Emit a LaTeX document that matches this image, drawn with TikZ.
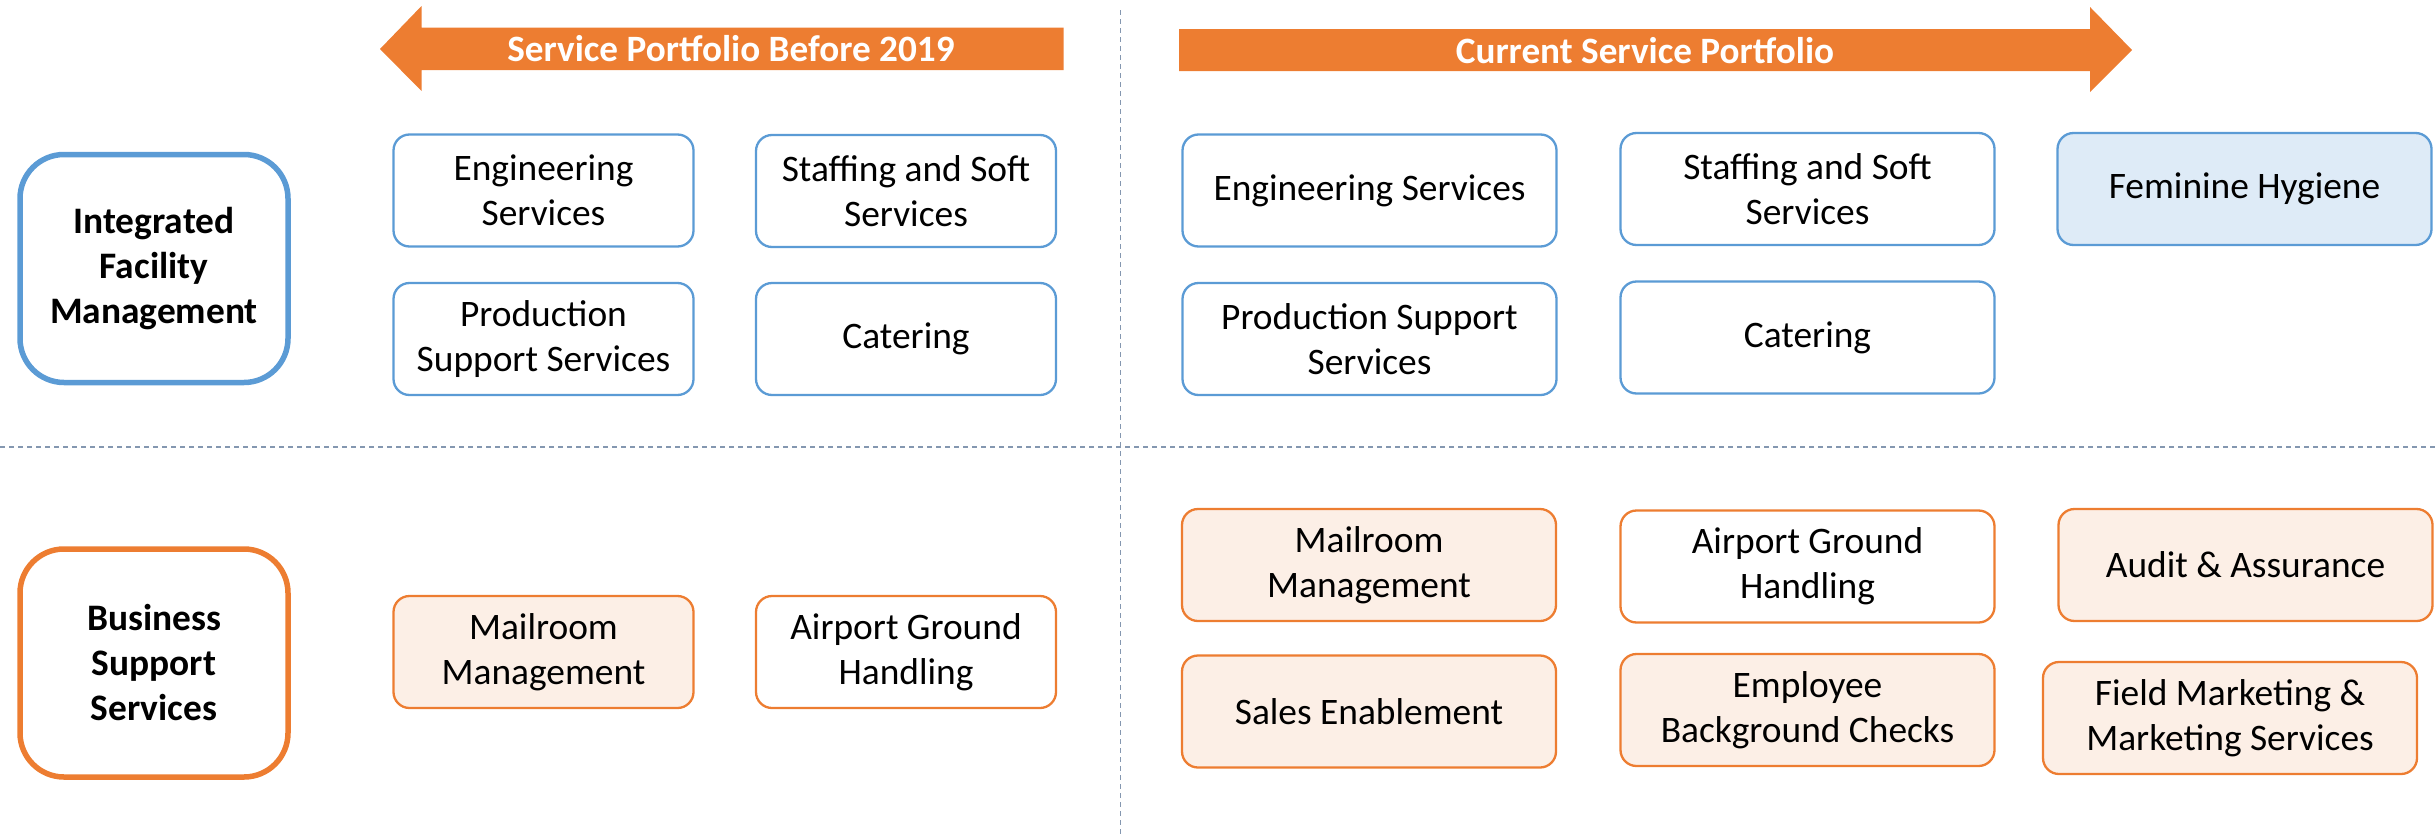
\documentclass[tikz,border=0pt]{standalone}
\usepackage{fontspec}
\setmainfont{Carlito}
\usepackage{xcolor}
\usetikzlibrary{calc}

\definecolor{ifmblue}{HTML}{5B9BD5}
\definecolor{ifmlight}{HTML}{DEEBF7}
\definecolor{bssorange}{HTML}{ED7D31}
\definecolor{bsslight}{HTML}{FCEFE6}
\definecolor{divgray}{HTML}{8497B0}

\tikzset{
  item/.style={draw, rounded corners=8pt, line width=1.15pt, align=center,
    minimum height=56pt, inner sep=2pt,
    font=\fontsize{18.7pt}{22.3pt}\selectfont},
  oldbox/.style={item, minimum width=150pt},
  newbox/.style={item, minimum width=187pt},
  ifmbox/.style={draw=ifmblue, fill=white},
  bssbox/.style={draw=bssorange, fill=white},
  group/.style={draw, rounded corners=22pt, line width=2.75pt, fill=white,
    align=center, minimum width=134pt, minimum height=114pt,
    font=\fontsize{18.7pt}{22.5pt}\selectfont\bfseries},
  banner/.style={fill=bssorange},
  bannertext/.style={text=white, font=\fontsize{18.6pt}{22pt}\selectfont\bfseries}
}

\begin{document}
\begin{tikzpicture}[x=0.5pt, y=-0.5pt]
  \useasboundingbox (0,0) rectangle (2435,835);

  % Dividers
  \draw[divgray, line width=0.75pt, dash pattern=on 2.5pt off 2pt] (1120.5,10) -- (1120.5,835);
  \draw[divgray, line width=0.75pt, dash pattern=on 2.5pt off 2pt] (0,447) -- (2435,447);

  % Banner arrows
  \fill[banner] (1063.5,27.5) -- (421.5,27.5) -- (421.5,6) -- (380,49)
    -- (421.5,91) -- (421.5,70) -- (1063.5,70) -- cycle;
  \node[bannertext] (before) at (731,49) {Service Portfolio Before 2019};
  \fill[banner] (1179,29) -- (2090,29) -- (2090,7) -- (2132,50)
    -- (2090,92) -- (2090,71) -- (1179,71) -- cycle;
  \node[bannertext] (current) at (1645,51) {Current Service Portfolio};

  % Row labels
  \node[group, draw=ifmblue] (ifm) at (154,268.5) {Integrated\\Facility\\Management};
  \node[group, draw=bssorange] (bss) at (154,663) {Business\\Support\\Services};

  % Before 2019 - facility management
  \node[oldbox, ifmbox] (engold) at (543.5,190.5) {Engineering\\Services};
  \node[oldbox, ifmbox] (staffold) at (906,191) {Staffing and Soft\\Services};
  \node[oldbox, ifmbox] (prodold) at (543.5,339) {Production\\Support Services};
  \node[oldbox, ifmbox] (caterold) at (906,339) {Catering};

  % Before 2019 - business support
  \node[oldbox, bssbox, fill=bsslight] (mailold) at (543.5,652) {Mailroom\\Management};
  \node[oldbox, bssbox] (airold) at (906,652) {Airport Ground\\Handling};

  % Current - facility management
  \node[newbox, ifmbox] (engnew) at (1369.5,190.5) {Engineering Services};
  \node[newbox, ifmbox] (staffnew) at (1807.5,189) {Staffing and Soft\\Services};
  \node[newbox, ifmbox, fill=ifmlight] (femnew) at (2244.5,189) {Feminine Hygiene};
  \node[newbox, ifmbox] (prodnew) at (1369.5,339) {Production Support\\Services};
  \node[newbox, ifmbox] (caternew) at (1807.5,337.5) {Catering};

  % Current - business support
  \node[newbox, bssbox, fill=bsslight] (mailnew) at (1369,565) {Mailroom\\Management};
  \node[newbox, bssbox] (airnew) at (1807.5,566.5) {Airport Ground\\Handling};
  \node[newbox, bssbox, fill=bsslight] (auditnew) at (2245.5,565) {Audit \& Assurance};
  \node[newbox, bssbox, fill=bsslight] (salesnew) at (1369,711.5) {Sales Enablement};
  \node[newbox, bssbox, fill=bsslight] (empnew) at (1807.5,710) {Employee\\Background Checks};
  \node[newbox, bssbox, fill=bsslight] (fieldnew) at (2230,718) {Field Marketing \&\\Marketing Services};
\end{tikzpicture}
\end{document}
